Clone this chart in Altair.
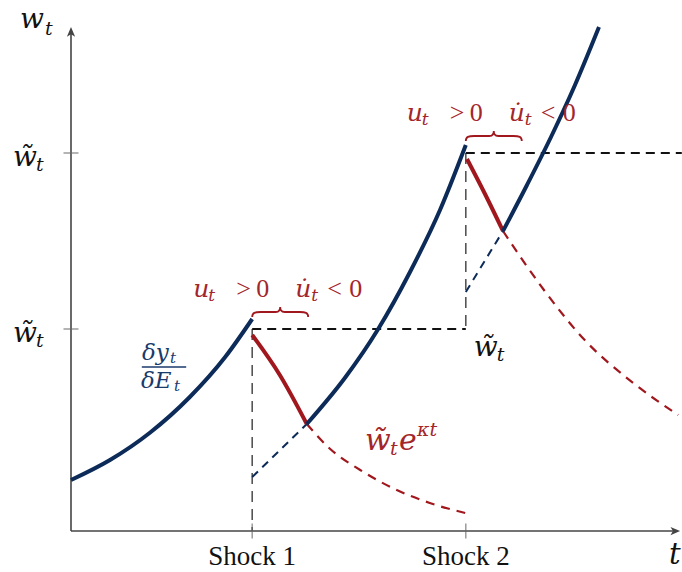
import altair as alt
import pandas as pd

# --- shocks and wage thresholds ---
shock_t = [3.02, 6.58]
shock_labels = ["Shock 1", "Shock 2"]
w_tilde = [4.04, 7.56]
flat_end_t = [6.58, 10.18]
vline_bottom = [0.0, 4.04]

# --- marginal product dy/dE (solid navy) ---
mp1_t = [0.00, 0.65, 1.32, 1.98, 2.57, 3.02]
mp1_w = [1.02, 1.42, 1.97, 2.68, 3.48, 4.24]
mp2_t = [3.93, 4.57, 5.12, 5.65, 6.15, 6.58]
mp2_w = [2.14, 3.07, 4.04, 5.18, 6.42, 7.72]
mp3_t = [7.20, 7.60, 8.00, 8.40, 8.80]
mp3_w = [6.00, 6.92, 7.88, 8.92, 10.08]
# marginal product right after a shock, while the wage binds (dashed navy)
mpd1_t = [3.02, 3.93]
mpd1_w = [1.08, 2.14]
mpd2_t = [6.58, 7.20]
mpd2_w = [4.78, 6.00]
# wage path w~ e^{kt}: binding part (solid red) and continuation (dashed red)
wg1_t = [3.02, 3.48, 3.93]
wg1_w = [3.92, 3.12, 2.14]
wg2_t = [6.60, 6.90, 7.20]
wg2_w = [7.44, 6.74, 6.00]
wgd1_t = [3.93, 4.32, 4.82, 5.43, 5.98, 6.57]
wgd1_w = [2.14, 1.64, 1.22, 0.82, 0.56, 0.36]
wgd2_t = [7.20, 7.87, 8.53, 9.37, 10.12]
wgd2_w = [6.00, 4.84, 3.86, 2.96, 2.32]

NAVY = "#0c2b58"
RED = "#a0181e"
RED_TXT = "#a3262b"
NAVY_TXT = "#1a3a6c"
INK = "#111111"
AXIS = "#444444"
ROMAN = "Liberation Serif"
MATH = "DejaVu Serif"
W_TILDE = "w\u0303"
U_DOT = "u\u0307"

xs = alt.Scale(domain=[0, 10.15], nice=False, zero=False)
ys = alt.Scale(domain=[0, 10], nice=False, zero=False)
X = alt.X("t:Q", scale=xs, axis=None)
Y = alt.Y("w:Q", scale=ys, axis=None)


def seg(kind, name, ts, ws):
    return pd.DataFrame({"t": ts, "w": ws, "seg": name, "kind": kind})


curves = pd.concat([
    seg("mp", "mp1", mp1_t, mp1_w),
    seg("mp", "mp2", mp2_t, mp2_w),
    seg("mp", "mp3", mp3_t, mp3_w),
    seg("mpd", "mpd1", mpd1_t, mpd1_w),
    seg("mpd", "mpd2", mpd2_t, mpd2_w),
    seg("wg", "wg1", wg1_t, wg1_w),
    seg("wg", "wg2", wg2_t, wg2_w),
    seg("wgd", "wgd1", wgd1_t, wgd1_w),
    seg("wgd", "wgd2", wgd2_t, wgd2_w),
], ignore_index=True)


def curve(kind, **mark):
    return (
        alt.Chart(curves)
        .transform_filter(alt.datum.kind == kind)
        .mark_line(interpolate="monotone", **mark)
        .encode(x=X, y=Y, detail="seg:N", order="t:Q")
    )


shocks = pd.DataFrame({
    "t": shock_t, "w": w_tilde, "name": shock_labels,
    "t_end": flat_end_t, "w_low": vline_bottom, "zero": [0.0, 0.0],
})

# axes with arrow heads
axes_df = pd.DataFrame({"t": [0.0], "w": [0.0], "t_top": [10.06], "w_top": [9.97]})
y_axis = alt.Chart(axes_df).mark_rule(color=AXIS, strokeWidth=1.6).encode(
    x=X, y=Y, y2="w_top:Q")
x_axis = alt.Chart(axes_df).mark_rule(color=AXIS, strokeWidth=1.6).encode(
    x=X, x2="t_top:Q", y=Y)
up_head = alt.Chart(axes_df).mark_point(
    shape="M 0 -1 L 0.75 0.75 L 0 0.3 L -0.75 0.75 Z", filled=True,
    size=121, color=AXIS, opacity=1, strokeWidth=0,
).encode(x=X, y=alt.Y("w_top:Q", scale=ys, axis=None))
right_head = alt.Chart(axes_df).mark_point(
    shape="M 1 0 L -0.75 0.75 L -0.3 0 L -0.75 -0.75 Z", filled=True,
    size=121, color=AXIS, opacity=1, strokeWidth=0,
).encode(x=alt.X("t_top:Q", scale=xs, axis=None), y=Y)

x_ticks = alt.Chart(shocks).mark_tick(
    orient="vertical", size=15, thickness=1.4, color="#666666"
).encode(x=X, y=alt.Y("zero:Q", scale=ys, axis=None))
y_ticks = alt.Chart(shocks).mark_tick(
    orient="horizontal", size=15, thickness=1.4, color="#666666"
).encode(x=alt.X("zero:Q", scale=xs, axis=None), y=Y)

# guide lines at each shock
vlines = alt.Chart(shocks).mark_rule(
    color="#555555", strokeWidth=1.6, strokeDash=[11, 7]
).encode(x=X, y=Y, y2="w_low:Q")
hlines = alt.Chart(shocks).mark_rule(
    color=INK, strokeWidth=2, strokeDash=[9, 6]
).encode(x=X, x2="t_end:Q", y=Y)


def label(df, text, size, color, dx, dy, italic=True, align="left", x=X, y=Y):
    return alt.Chart(df).mark_text(
        text=text, fontSize=size, color=color, dx=dx, dy=dy, align=align,
        baseline="alphabetic", font=MATH if italic else ROMAN,
        fontStyle="italic" if italic else "normal",
    ).encode(x=x, y=y)


# shock names under the time axis
shock_text = alt.Chart(shocks).mark_text(
    fontSize=27, font=ROMAN, color=INK, dy=34, align="center", baseline="alphabetic"
).encode(x=X, y=alt.Y("zero:Q", scale=ys, axis=None), text="name:N")

# w~_t labels on the vertical axis
ZX = alt.X("zero:Q", scale=xs, axis=None)
ytick_lab = [
    label(shocks, W_TILDE, 28, INK, -58, 13, x=ZX),
    label(shocks, "t", 19, INK, -35, 18, x=ZX),
]

# u_t > 0 , u'_t < 0 with a brace above each kink
brace = alt.Chart(shocks).mark_point(
    shape="M -1 0.18 C -1 0.02 -0.9 0 -0.7 0 L -0.16 0 C -0.03 0 0 -0.08 0 -0.18 "
          "C 0 -0.08 0.03 0 0.16 0 L 0.7 0 C 0.9 0 1 0.02 1 0.18",
    filled=False, size=3136, color=RED, strokeWidth=1.8, opacity=1,
    xOffset=28, yOffset=-17,
).encode(x=X, y=Y)
u_lab = [
    label(shocks, "u", 25, RED_TXT, -59, -32),
    label(shocks, "t", 17, RED_TXT, -44, -28),
    label(shocks, ">", 26, RED_TXT, -16, -32, italic=False),
    label(shocks, "0", 26, RED_TXT, 4, -32, italic=False),
    label(shocks, U_DOT, 25, RED_TXT, 43, -32),
    label(shocks, "t", 17, RED_TXT, 59, -28),
    label(shocks, "<", 26, RED_TXT, 75, -32, italic=False),
    label(shocks, "0", 26, RED_TXT, 97, -32, italic=False),
]

# w~_t next to the second shock
w2 = pd.DataFrame({"t": [shock_t[1]], "w": [w_tilde[0]]})
w2_lab = [
    label(w2, W_TILDE, 28, INK, 8, 27),
    label(w2, "t", 19, INK, 31, 32),
]

# dy/dE fraction
frac = pd.DataFrame({"t": [1.55], "w": [3.28], "t0": [1.18], "t1": [1.92]})
frac_bar = alt.Chart(frac).mark_rule(color=NAVY_TXT, strokeWidth=1.3).encode(
    x=alt.X("t0:Q", scale=xs, axis=None), x2="t1:Q", y=Y)
frac_lab = [
    label(frac, "\u03b4y", 23, NAVY_TXT, -22, -7),
    label(frac, "t", 15, NAVY_TXT, 6, -4),
    label(frac, "\u03b4E", 23, NAVY_TXT, -23, 21),
    label(frac, "t", 15, NAVY_TXT, 10, 24),
]

# w~_t e^{kt}
wexp = pd.DataFrame({"t": [4.9], "w": [1.62]})
wexp_lab = [
    label(wexp, W_TILDE, 30, RED_TXT, 0, 0),
    label(wexp, "t", 19, RED_TXT, 25, 5),
    label(wexp, "e", 30, RED_TXT, 34, 0),
    label(wexp, "\u03bat", 19, RED_TXT, 52, -14),
]

# axis titles
corner = pd.DataFrame({"t": [0.0], "w": [10.0]})
far = pd.DataFrame({"t": [10.15], "w": [0.0]})
titles = [
    label(corner, "w", 28, INK, -51, -3),
    label(corner, "t", 19, INK, -26, 4),
    label(far, "t", 29, INK, -11, 33),
]

layers = [
    vlines, hlines, x_axis, y_axis, up_head, right_head, x_ticks, y_ticks,
    curve("wgd", color=RED, strokeWidth=2.2, strokeDash=[9, 7]),
    curve("mpd", color=NAVY, strokeWidth=2, strokeDash=[8, 6]),
    curve("wg", color=RED, strokeWidth=4),
    curve("mp", color=NAVY, strokeWidth=4),
    brace, frac_bar, shock_text,
    *ytick_lab, *u_lab, *w2_lab, *frac_lab, *wexp_lab, *titles,
]

chart = (
    alt.layer(*layers)
    .properties(
        width=609, height=500,
        autosize=alt.AutoSizeParams(type="none"),
        padding={"left": 71, "top": 31, "right": 2, "bottom": 41},
        background="white",
    )
    .configure_view(stroke=None)
)

chart.save("out.html", embed_options={"renderer": "svg", "actions": False})
